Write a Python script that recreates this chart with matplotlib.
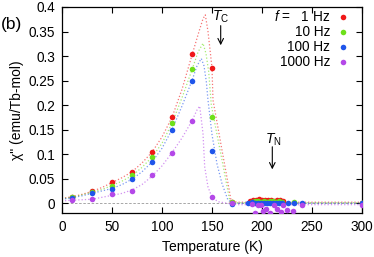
import matplotlib
matplotlib.use("Agg")
import matplotlib.pyplot as plt

plt.rcParams['font.family'] = ['Liberation Sans', 'DejaVu Sans']
plt.rcParams['mathtext.fontset'] = 'custom'
plt.rcParams['mathtext.rm'] = 'Liberation Sans'
plt.rcParams['mathtext.it'] = 'Liberation Sans:italic'

# measured points (temperature K, chi'' emu/Tb-mol)
T_low = [10, 30, 50, 70, 90, 110, 130, 150, 170]
red_low = [0.013, 0.024, 0.043, 0.064, 0.105, 0.175, 0.305, 0.276, 0.002]
green_low = [0.012, 0.023, 0.036, 0.057, 0.094, 0.164, 0.273, 0.176, 0.002]
blue_low = [0.011, 0.021, 0.029, 0.049, 0.084, 0.150, 0.250, 0.107, -0.002]
purple_low = [0.006, 0.008, 0.018, 0.025, 0.057, 0.103, 0.168, 0.012, 0.0]

red_hi_T = [188, 191, 194, 197, 200, 203, 206, 209, 212, 215, 218, 221, 300]
red_hi = [0.004, 0.006, 0.007, 0.008, 0.007, 0.006, 0.007, 0.006, 0.005, 0.007, 0.006, 0.004, 0.001]
green_hi_T = [190, 193, 196, 199, 202, 205, 208, 211, 214, 217, 220, 232, 300]
green_hi = [0.003, 0.004, 0.004, 0.003, 0.004, 0.003, 0.005, 0.004, 0.003, 0.004, 0.003, 0.002, 0.001]
blue_hi_T = [186, 190, 193, 196, 199, 202, 205, 208, 211, 214, 217, 220, 226, 232, 240, 300]
blue_hi = [0.0, 0.002, 0.001, 0.0, 0.001, 0.0, 0.001, 0.0, 0.001, 0.0, 0.001, 0.0, 0.0, 0.0, 0.001, 0.0]
purple_hi_T = [190, 193, 196, 199, 201, 204, 208, 212, 215, 219, 221, 225, 231, 240, 300]
purple_hi = [-0.002, -0.019, -0.004, -0.003, -0.016, -0.012, -0.019, -0.003, -0.011, -0.018, -0.004, -0.014, -0.016, -0.004, -0.003]

# fitted guide curves
red_fit_T = [3, 10, 20, 30, 40, 50, 60, 70, 80, 90, 100, 110, 120, 130, 137, 141, 143.3, 146, 150, 151, 155, 160, 165, 169, 175, 300]
red_fit = [0.011, 0.013, 0.018, 0.024, 0.032, 0.042, 0.052, 0.064, 0.082, 0.104, 0.135, 0.175, 0.232, 0.302, 0.350, 0.376, 0.384, 0.350, 0.276, 0.210, 0.165, 0.108, 0.052, 0.006, 0.002, 0.002]
green_fit_T = [3, 10, 20, 30, 40, 50, 60, 70, 80, 90, 100, 110, 120, 130, 136, 141, 144, 146.7, 149.3, 155, 160, 167.7, 175, 300]
green_fit = [0.010, 0.012, 0.017, 0.022, 0.028, 0.036, 0.045, 0.056, 0.073, 0.094, 0.122, 0.163, 0.215, 0.272, 0.308, 0.326, 0.305, 0.268, 0.200, 0.140, 0.088, 0.006, 0.001, 0.001]
blue_fit_T = [3, 10, 20, 30, 40, 50, 60, 70, 80, 90, 100, 110, 120, 130, 135, 139.3, 142, 144.3, 146, 150, 155, 160, 166, 172, 300]
blue_fit = [0.009, 0.011, 0.015, 0.020, 0.025, 0.030, 0.038, 0.049, 0.064, 0.084, 0.112, 0.150, 0.198, 0.250, 0.280, 0.295, 0.280, 0.248, 0.210, 0.140, 0.080, 0.040, 0.006, 0.0, 0.0]
purple_fit_T = [3, 10, 20, 30, 40, 50, 60, 70, 80, 90, 100, 110, 120, 130, 135, 137.7, 141, 142.7, 146, 150, 156, 165, 175, 300]
purple_fit = [0.005, 0.006, 0.007, 0.008, 0.012, 0.016, 0.020, 0.027, 0.038, 0.055, 0.076, 0.103, 0.133, 0.168, 0.190, 0.198, 0.142, 0.074, 0.033, 0.012, 0.003, 0.0, -0.003, -0.003]

freq_labels = ['$f$ =   1 Hz', '10 Hz', '100 Hz', '1000 Hz']
colors = ['#f01818', '#6ee01a', '#1f55ea', '#b448e8']

fig = plt.figure(figsize=(3.74, 2.57), dpi=100)
ax = fig.add_axes([62/374, 44/257, 300/374, 206/257])

ax.axhline(0, color='#999999', lw=0.6, ls=(0, (3, 2)), zorder=1)

series = [
    (red_low, red_hi_T, red_hi, red_fit_T, red_fit),
    (green_low, green_hi_T, green_hi, green_fit_T, green_fit),
    (blue_low, blue_hi_T, blue_hi, blue_fit_T, blue_fit),
    (purple_low, purple_hi_T, purple_hi, purple_fit_T, purple_fit),
]
for (low, hiT, hi, fT, f), c in zip(series, colors):
    ax.plot(fT, f, ls=':', lw=0.9, color=c, alpha=0.6, zorder=2)
    ax.plot(T_low + hiT, low + hi, 'o', ms=4, color=c, mec='none', zorder=3)

# legend, right aligned like the original
for i, (lab, c) in enumerate(zip(freq_labels, colors)):
    y = 1 - (10 + 15 * i) / 206
    ax.text(268 / 300, y, lab, transform=ax.transAxes, ha='right', va='center', fontsize=9.8)
    ax.plot([281 / 300], [y], 'o', ms=4, color=c, mec='none', transform=ax.transAxes, clip_on=False)

ax.annotate('', xy=(158.7, 0.322), xytext=(158.7, 0.362),
            arrowprops=dict(arrowstyle='->', lw=0.8, color='black', shrinkA=0, shrinkB=0))
ax.text(159, 0.379, r'$T_{\rm C}$', ha='center', va='center', fontsize=10)
ax.annotate('', xy=(210.3, 0.069), xytext=(210.3, 0.115),
            arrowprops=dict(arrowstyle='->', lw=0.8, color='black', shrinkA=0, shrinkB=0))
ax.text(211, 0.129, r'$T_{\rm N}$', ha='center', va='center', fontsize=10)

ax.set_xlim(0, 300)
ax.set_ylim(-0.02, 0.4)
ax.set_xticks(range(0, 301, 50))
ax.set_yticks([0, 0.05, 0.1, 0.15, 0.2, 0.25, 0.3, 0.35, 0.4])
ax.set_yticklabels(['0', '0.05', '0.1', '0.15', '0.2', '0.25', '0.3', '0.35', '0.4'])
ax.tick_params(direction='in', top=True, right=True, labelsize=9.8, length=4, width=0.8, pad=5)
for s in ax.spines.values():
    s.set_linewidth(0.9)

ax.set_xlabel('Temperature (K)', fontsize=10, labelpad=4)
ax.set_ylabel('\u03c7" (emu/Tb-mol)', fontsize=10, labelpad=3)
fig.text(0.003, 1 - 25/257, '(b)', fontsize=12.5, va='center', ha='left')

fig.savefig('out.png', dpi=100)
